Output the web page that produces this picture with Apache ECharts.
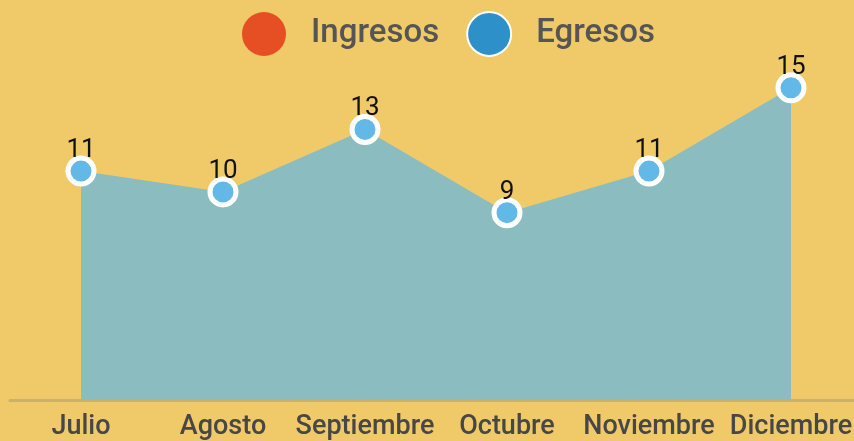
<!DOCTYPE html>
<html><head><meta charset="utf-8">
<script src="https://cdn.jsdelivr.net/npm/echarts@6/dist/echarts.min.js"></script>
<style>html,body{margin:0;padding:0;background:#f0c969;overflow:hidden;width:854px;height:441px;}#c{width:862px;height:441px;}</style>
</head><body><div id="c"></div>
<script>
const categories = ['Julio','Agosto','Septiembre','Octubre','Noviembre','Diciembre'];
const ingresos = [];
const egresos = [11, 10, 13, 9, 11, 15];
const seriesNames = ['Ingresos','Egresos'];

const chart = echarts.init(document.getElementById('c'), null, {renderer:'canvas'});
chart.setOption({
  backgroundColor:'#f0c969',
  animation:false,
  color:['#e64e24','#2e90c8'],
  legend:{
    data:[{name:seriesNames[0],itemStyle:{color:'#e64e24'}},{name:seriesNames[1],itemStyle:{color:'#2e90c8'}}],
    top:6, left:237,
    icon:'circle', itemWidth:44, itemHeight:44, itemGap:27,
    textStyle:{fontFamily:'Roboto', fontSize:33, fontWeight:500, color:'#555555', padding:[0,0,0,20]}
  },
  grid:{left:10, right:0, top:67, bottom:39.5, containLabel:false},
  xAxis:{
    type:'category', data:categories, boundaryGap:true,
    axisLine:{show:true, lineStyle:{color:'#cbb16a', width:3}},
    axisTick:{show:false},
    axisLabel:{fontFamily:'Roboto', fontSize:27, fontWeight:500, color:'#474747', margin:14, interval:0}
  },
  yAxis:{type:'value', min:0, max:16, show:false, splitLine:{show:false}},
  series:[
    {name:seriesNames[0], type:'line', data:ingresos},
    {name:seriesNames[1], type:'line', data:egresos,
     symbol:'circle', symbolSize:26,
     itemStyle:{color:'#62b8e6', borderColor:'#ffffff', borderWidth:5},
     lineStyle:{color:'#8bbcbf', width:0},
     areaStyle:{color:'#8bbcbf', opacity:1},
     label:{show:true, position:'top', distance:-8, fontFamily:'Roboto', fontSize:26, color:'#111111'}
    }
  ]
});
</script></body></html>
